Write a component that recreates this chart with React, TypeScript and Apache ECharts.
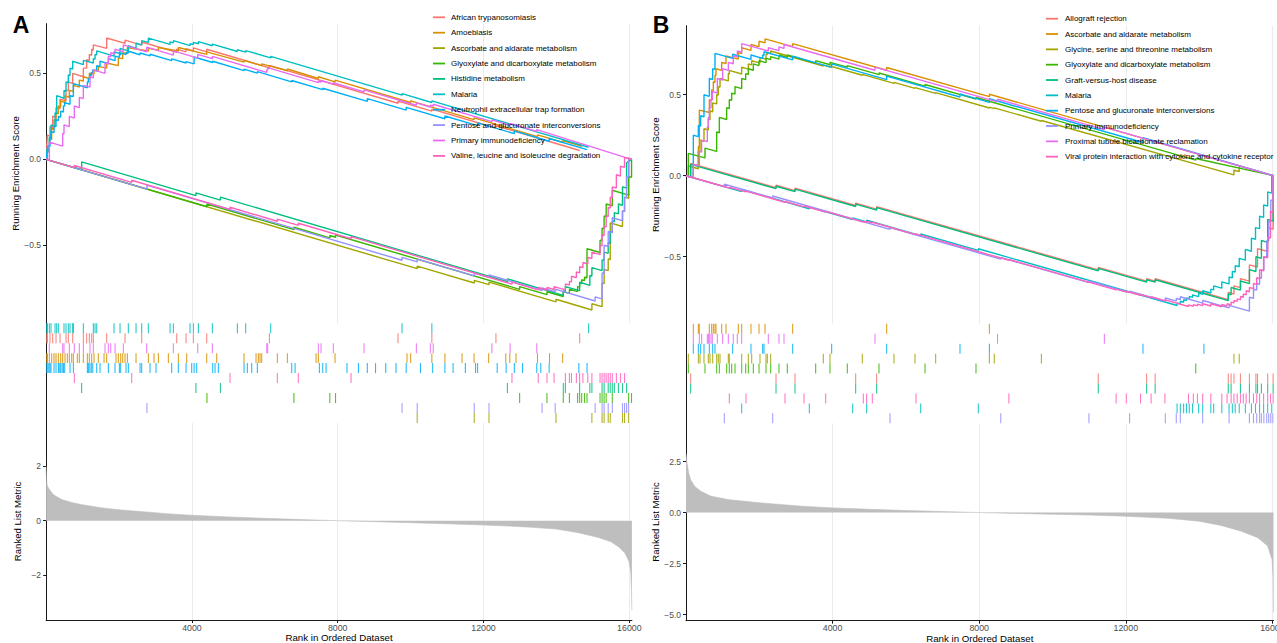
import React, { useEffect, useRef } from 'react';
import * as echarts from 'echarts';

const FONT = '"Liberation Sans", Arial, Helvetica, sans-serif';
const AXIS_COLOR = '#1a1a1a';
const LABEL_COLOR = '#4D4D4D';
const GRID_COLOR = '#EBEBEB';

const N_A = 16070;
const N_B = 16030;

const COLORS = ['#F8766D', '#D89000', '#A3A500', '#39B600', '#00BF7D', '#00BFC4', '#00B0F6', '#9590FF', '#E76BF3', '#FF62BC'];

const A_NAMES = [
  'African trypanosomiasis',
  'Amoebiasis',
  'Ascorbate and aldarate metabolism',
  'Glyoxylate and dicarboxylate metabolism',
  'Histidine metabolism',
  'Malaria',
  'Neutrophil extracellular trap formation',
  'Pentose and glucuronate interconversions',
  'Primary immunodeficiency',
  'Valine, leucine and isoleucine degradation',
];
const B_NAMES = [
  'Allograft rejection',
  'Ascorbate and aldarate metabolism',
  'Glycine, serine and threonine metabolism',
  'Glyoxylate and dicarboxylate metabolism',
  'Graft-versus-host disease',
  'Malaria',
  'Pentose and glucuronate interconversions',
  'Primary immunodeficiency',
  'Proximal tubule bicarbonate reclamation',
  'Viral protein interaction with cytokine and cytokine receptor',
];

// ---------- Panel A running enrichment scores ----------
const A_AFRICAN = [[0,0],[20,0],[20,0.08],[34,0.08],[34,0.14],[107,0.135],[107,0.19],[180,0.185],[180,0.25],[272,0.245],[272,0.3],[382,0.295],[382,0.35],[546,0.34],[546,0.4],[610,0.4],[610,0.45],[729,0.44],[729,0.5],[1022,0.48],[1022,0.53],[1113,0.53],[1113,0.58],[1186,0.575],[1186,0.61],[1250,0.605],[1250,0.64],[1296,0.635],[1296,0.665],[1662,0.645],[1662,0.705],[2165,0.674],[2165,0.693],[2622,0.664],[2622,0.682],[3583,0.622],[3583,0.641],[3839,0.625],[3839,0.643],[4040,0.63],[4040,0.648],[4406,0.625],[4406,0.64],[6126,0.532],[6126,0.546],[9654,0.326],[9654,0.338],[10582,0.28],[10582,0.292],[12340,0.182],[12340,0.195],[14637,0.051]];
const A_AMOEBIASIS = [[0,0],[20,0],[20,0.05],[89,0.045],[89,0.12],[153,0.115],[153,0.18],[217,0.175],[217,0.23],[272,0.225],[272,0.27],[336,0.265],[336,0.31],[400,0.305],[400,0.34],[519,0.33],[519,0.37],[638,0.36],[638,0.4],[748,0.395],[748,0.43],[912,0.42],[912,0.46],[1022,0.455],[1022,0.48],[1186,0.47],[1186,0.5],[1314,0.495],[1314,0.52],[1433,0.515],[1433,0.54],[1662,0.53],[1662,0.56],[1982,0.545],[1982,0.59],[2101,0.585],[2101,0.62],[2229,0.615],[2229,0.65],[2805,0.63],[2805,0.645],[3080,0.635],[3080,0.65],[3628,0.63],[3628,0.65],[4406,0.61],[4406,0.625],[5430,0.565],[5430,0.575],[5914,0.545],[5914,0.555],[6619,0.515],[6619,0.525],[7469,0.47],[7469,0.48],[7926,0.45],[7926,0.46],[10000,0.33],[10000,0.34],[11740,0.231],[11740,0.241],[13480,0.132],[13480,0.142],[14170,0.099],[14170,0.109],[14700,0.076]];
const A_ASCORBATE = [[0,0],[10180,-0.636],[10180,-0.621],[11745,-0.719],[11745,-0.704],[12150,-0.729],[12150,-0.714],[13987,-0.829],[13987,-0.814],[14972,-0.876],[14972,-0.84],[15252,-0.857],[15252,-0.72],[15308,-0.723],[15308,-0.64],[15420,-0.647],[15420,-0.58],[15476,-0.583],[15476,-0.37],[15812,-0.391],[15812,-0.3],[15868,-0.303],[15868,-0.22],[15980,-0.227],[15980,0.006],[16070,0]];
const A_GLYOXYLATE = [[0,0],[4412,-0.276],[4412,-0.26],[6798,-0.409],[6798,-0.395],[7783,-0.457],[7783,-0.443],[7940,-0.453],[7940,-0.44],[12990,-0.756],[12990,-0.74],[13740,-0.787],[13740,-0.77],[14188,-0.798],[14188,-0.77],[14356,-0.78],[14356,-0.755],[14580,-0.769],[14580,-0.74],[14636,-0.743],[14636,-0.72],[14692,-0.723],[14692,-0.7],[14770,-0.705],[14770,-0.685],[14838,-0.689],[14838,-0.52],[15196,-0.542],[15196,-0.47],[15252,-0.473],[15252,-0.4],[15308,-0.403],[15308,-0.33],[15364,-0.333],[15364,-0.26],[15532,-0.27],[15532,-0.18],[15980,-0.208],[15980,-0.1],[16060,-0.105],[16060,0]];
const A_HISTIDINE = [[0,0],[975,-0.061],[975,-0.015],[4110,-0.211],[4110,-0.195],[4782,-0.237],[4782,-0.22],[12655,-0.712],[12655,-0.695],[14188,-0.791],[14188,-0.765],[14245,-0.769],[14245,-0.74],[14636,-0.764],[14636,-0.715],[14916,-0.733],[14916,-0.675],[14972,-0.679],[14972,-0.63],[15252,-0.647],[15252,-0.585],[15308,-0.588],[15308,-0.54],[15420,-0.547],[15420,-0.485],[15476,-0.488],[15476,-0.42],[15532,-0.423],[15532,-0.36],[15588,-0.363],[15588,-0.31],[15700,-0.317],[15700,-0.26],[15812,-0.267],[15812,-0.16],[15924,-0.167],[15924,-0.02],[16070,0]];
const A_MALARIA = [[0,0],[20,0],[20,0.06],[89,0.055],[89,0.13],[135,0.125],[135,0.2],[245,0.19],[245,0.27],[290,0.265],[290,0.37],[491,0.355],[491,0.4],[546,0.395],[546,0.45],[610,0.445],[610,0.49],[656,0.487],[656,0.53],[729,0.525],[729,0.57],[1022,0.55],[1022,0.575],[1296,0.56],[1296,0.585],[1342,0.582],[1342,0.61],[1388,0.607],[1388,0.63],[1863,0.6],[1863,0.625],[2028,0.615],[2028,0.645],[2256,0.63],[2256,0.66],[2467,0.645],[2467,0.675],[2622,0.665],[2622,0.69],[2805,0.68],[2805,0.705],[3400,0.668],[3400,0.683],[3491,0.677],[3491,0.69],[3948,0.661],[3948,0.672],[4040,0.667],[4040,0.68],[4177,0.672],[4177,0.684],[4561,0.66],[4561,0.67],[5247,0.627],[5247,0.637],[5475,0.623],[5475,0.632],[6161,0.59],[6161,0.598],[9764,0.373],[9764,0.382],[10582,0.33],[10582,0.34],[14883,0.07]];
const A_NEUTROPHIL = [[0,0],[20,0],[20,0.04],[50,0.04],[50,0.08],[107,0.075],[107,0.12],[135,0.12],[135,0.16],[217,0.155],[217,0.19],[272,0.19],[272,0.23],[336,0.225],[336,0.25],[400,0.245],[400,0.28],[475,0.275],[475,0.31],[510,0.31],[510,0.33],[656,0.32],[656,0.37],[748,0.365],[748,0.44],[1132,0.416],[1132,0.45],[1160,0.448],[1160,0.47],[1200,0.467],[1200,0.49],[1240,0.487],[1240,0.505],[1280,0.502],[1280,0.52],[1388,0.513],[1388,0.545],[1479,0.539],[1479,0.57],[1708,0.556],[1708,0.585],[1891,0.574],[1891,0.6],[2010,0.593],[2010,0.61],[2046,0.608],[2046,0.618],[2192,0.609],[2192,0.622],[2256,0.618],[2256,0.628],[2577,0.608],[2577,0.618],[2851,0.601],[2851,0.611],[3445,0.574],[3445,0.584],[3839,0.56],[3839,0.568],[4060,0.555],[4060,0.595],[4570,0.563],[4570,0.57],[5430,0.516],[5430,0.524],[5795,0.501],[5795,0.51],[6737,0.45],[6737,0.458],[7588,0.405],[7588,0.413],[8812,0.337],[8812,0.353],[9878,0.286],[9878,0.302],[10940,0.236],[10940,0.252],[11837,0.196],[11837,0.212],[12845,0.149],[12845,0.165],[13800,0.105],[13800,0.121],[14840,0.056]];
const A_PENTOSE = [[0,0],[2766,-0.173],[2766,-0.15],[9765,-0.587],[9765,-0.57],[10180,-0.596],[10180,-0.58],[11745,-0.678],[11745,-0.662],[12150,-0.687],[12150,-0.672],[13606,-0.763],[13606,-0.748],[13965,-0.77],[13965,-0.755],[15061,-0.824],[15061,-0.8],[15252,-0.812],[15252,-0.66],[15308,-0.663],[15308,-0.5],[15420,-0.507],[15420,-0.42],[15532,-0.427],[15532,-0.34],[15812,-0.357],[15812,-0.3],[15868,-0.303],[15868,-0.22],[15924,-0.223],[15924,-0.1],[15980,-0.103],[15980,0.006],[16070,0]];
const A_PRIMARY = [[0,0],[89,-0.005],[89,0.1],[455,0.077],[455,0.15],[491,0.148],[491,0.2],[638,0.19],[638,0.25],[775,0.24],[775,0.31],[912,0.3],[912,0.36],[1022,0.353],[1022,0.43],[1205,0.42],[1205,0.48],[1296,0.474],[1296,0.52],[1616,0.5],[1616,0.56],[1708,0.554],[1708,0.6],[1772,0.596],[1772,0.62],[1891,0.613],[1891,0.64],[2119,0.626],[2119,0.665],[2759,0.625],[2759,0.652],[3491,0.606],[3491,0.63],[4159,0.588],[4159,0.61],[4561,0.585],[4561,0.598],[6052,0.505],[6052,0.52],[6079,0.518],[6079,0.533],[7469,0.446],[7469,0.454],[7542,0.449],[7542,0.458],[7880,0.437],[7880,0.445],[8722,0.392],[8722,0.404],[10157,0.314],[10157,0.328],[10540,0.304],[10540,0.314],[10620,0.309],[10620,0.32],[12230,0.219],[12230,0.229],[12730,0.198],[12730,0.208],[13460,0.162],[13460,0.173],[16060,0]];
const A_VALINE = [[0,0],[775,-0.048],[775,-0.036],[2348,-0.134],[2348,-0.122],[5045,-0.291],[5045,-0.279],[6343,-0.36],[6343,-0.348],[6919,-0.384],[6919,-0.372],[8365,-0.462],[8365,-0.45],[12780,-0.726],[12780,-0.714],[13500,-0.759],[13500,-0.745],[13740,-0.76],[13740,-0.745],[13935,-0.757],[13935,-0.74],[14245,-0.759],[14245,-0.725],[14356,-0.732],[14356,-0.71],[14412,-0.713],[14412,-0.68],[14547,-0.688],[14547,-0.655],[14636,-0.66],[14636,-0.625],[14726,-0.63],[14726,-0.6],[14860,-0.608],[14860,-0.57],[14972,-0.577],[14972,-0.54],[15196,-0.554],[15196,-0.5],[15252,-0.503],[15252,-0.44],[15308,-0.443],[15308,-0.39],[15364,-0.393],[15364,-0.33],[15420,-0.333],[15420,-0.28],[15476,-0.283],[15476,-0.22],[15532,-0.223],[15532,-0.16],[15644,-0.167],[15644,-0.09],[15756,-0.097],[15756,-0.04],[15868,-0.047],[15868,0.01],[16070,0]];

// ---------- Panel B running enrichment scores ----------
const B_ALLOGRAFT = [[0,0],[127,-0.008],[127,0.076],[2456,-0.074],[2456,-0.059],[2974,-0.092],[2974,-0.077],[4629,-0.184],[4629,-0.169],[5202,-0.206],[5202,-0.191],[11249,-0.581],[11249,-0.566],[12568,-0.651],[12568,-0.636],[12801,-0.651],[12801,-0.636],[14796,-0.765],[14796,-0.72],[14951,-0.73],[14951,-0.68],[15128,-0.691],[15128,-0.635],[15373,-0.651],[15373,-0.55],[15594,-0.564],[15594,-0.45],[15871,-0.468],[15871,-0.32],[16020,-0.33],[16020,0]];
const B_ASCORBATE = [[0,0],[200,-0.012],[200,0.07],[337,0.062],[337,0.18],[364,0.178],[364,0.405],[637,0.39],[637,0.47],[700,0.466],[700,0.53],[746,0.527],[746,0.58],[791,0.577],[791,0.62],[818,0.618],[818,0.66],[973,0.65],[973,0.7],[1091,0.693],[1091,0.74],[1428,0.72],[1428,0.76],[1519,0.754],[1519,0.79],[1773,0.774],[1773,0.81],[1992,0.797],[1992,0.83],[2156,0.82],[2156,0.845],[2910,0.797],[2910,0.815],[5475,0.651],[5475,0.668],[8278,0.488],[8278,0.503],[16030,0]];
const B_GLYCINE = [[0,0],[64,-0.004],[64,0.06],[337,0.043],[337,0.15],[382,0.147],[382,0.22],[491,0.213],[491,0.29],[609,0.282],[609,0.35],[655,0.347],[655,0.4],[728,0.395],[728,0.45],[837,0.443],[837,0.5],[882,0.497],[882,0.55],[928,0.547],[928,0.6],[1155,0.585],[1155,0.63],[1182,0.628],[1182,0.65],[1519,0.628],[1519,0.67],[1701,0.658],[1701,0.69],[1792,0.684],[1792,0.71],[2019,0.695],[2019,0.73],[2183,0.72],[2183,0.75],[2219,0.748],[2219,0.76],[2310,0.754],[2310,0.77],[3747,0.677],[3747,0.683],[3929,0.671],[3929,0.677],[4811,0.62],[4811,0.626],[5675,0.57],[5675,0.576],[6248,0.539],[6248,0.544],[6812,0.508],[6812,0.513],[8278,0.418],[8278,0.423],[8411,0.414],[8411,0.419],[9697,0.336],[9697,0.341],[14951,0.005],[14951,0.035],[15095,0.026],[15095,0.056],[15130,0.054]];
const B_GLYOXYLATE = [[0,0],[64,-0.004],[64,0.138],[518,0.11],[518,0.17],[837,0.15],[837,0.27],[910,0.265],[910,0.36],[1110,0.347],[1110,0.42],[1182,0.415],[1182,0.47],[1246,0.466],[1246,0.51],[1337,0.504],[1337,0.55],[1519,0.538],[1519,0.6],[1628,0.593],[1628,0.63],[1701,0.625],[1701,0.66],[1837,0.651],[1837,0.69],[1992,0.68],[1992,0.71],[2183,0.698],[2183,0.725],[2310,0.717],[2310,0.735],[2537,0.72],[2537,0.745],[2765,0.73],[2765,0.745],[3538,0.695],[3538,0.71],[3929,0.685],[3929,0.7],[4402,0.67],[4402,0.68],[5266,0.624],[5266,0.634],[6521,0.553],[6521,0.563],[7912,0.473],[7912,0.483],[13909,0.096],[13909,0.106],[16030,0]];
const B_GRAFT = [[0,0],[127,-0.008],[127,0.07],[2456,-0.08],[2456,-0.065],[2974,-0.098],[2974,-0.083],[4629,-0.19],[4629,-0.175],[5202,-0.212],[5202,-0.197],[11249,-0.587],[11249,-0.572],[12568,-0.657],[12568,-0.642],[12801,-0.657],[12801,-0.642],[14796,-0.771],[14796,-0.73],[14873,-0.735],[14873,-0.69],[15128,-0.706],[15128,-0.65],[15373,-0.666],[15373,-0.58],[15550,-0.591],[15550,-0.5],[15700,-0.51],[15700,-0.4],[15871,-0.411],[15871,-0.27],[16020,-0.28],[16020,0]];
const B_MALARIA = [[0,0],[1519,-0.098],[1519,-0.085],[3365,-0.204],[3365,-0.194],[4548,-0.27],[4548,-0.26],[4929,-0.285],[4929,-0.275],[6403,-0.37],[6403,-0.36],[7976,-0.461],[7976,-0.451],[13399,-0.801],[13399,-0.785],[13488,-0.791],[13488,-0.775],[13577,-0.781],[13577,-0.765],[13655,-0.77],[13655,-0.755],[13732,-0.76],[13732,-0.745],[13821,-0.751],[13821,-0.735],[13987,-0.746],[13987,-0.725],[14098,-0.732],[14098,-0.71],[14320,-0.724],[14320,-0.7],[14397,-0.705],[14397,-0.68],[14619,-0.694],[14619,-0.655],[14818,-0.668],[14818,-0.625],[14907,-0.631],[14907,-0.59],[14985,-0.595],[14985,-0.555],[15095,-0.562],[15095,-0.51],[15262,-0.521],[15262,-0.455],[15428,-0.466],[15428,-0.385],[15539,-0.392],[15539,-0.32],[15650,-0.327],[15650,-0.25],[15760,-0.257],[15760,-0.18],[15871,-0.187],[15871,-0.1],[15982,-0.107],[15982,0.003],[16030,0]];
const B_PENTOSE = [[0,0],[200,-0.012],[200,0.25],[337,0.241],[337,0.31],[400,0.306],[400,0.37],[491,0.364],[491,0.5],[637,0.49],[637,0.6],[728,0.594],[728,0.66],[791,0.656],[791,0.755],[1273,0.724],[1273,0.75],[1773,0.718],[1773,0.745],[2092,0.724],[2092,0.745],[2128,0.743],[2128,0.765],[2910,0.715],[2910,0.738],[3974,0.669],[3974,0.69],[5475,0.593],[5475,0.615],[7476,0.486],[7476,0.505],[8278,0.453],[8278,0.475],[12468,0.205],[12468,0.235],[16030,0]];
const B_PRIMARY = [[0,0],[1046,-0.067],[1046,-0.052],[2365,-0.137],[2365,-0.125],[5566,-0.331],[5566,-0.32],[8588,-0.515],[8588,-0.505],[10994,-0.66],[10994,-0.65],[12103,-0.722],[12103,-0.712],[13078,-0.775],[13078,-0.755],[13377,-0.774],[13377,-0.757],[13488,-0.764],[13488,-0.747],[14098,-0.786],[14098,-0.77],[14818,-0.816],[14818,-0.8],[15373,-0.836],[15373,-0.75],[15484,-0.757],[15484,-0.7],[15572,-0.706],[15572,-0.665],[15650,-0.67],[15650,-0.63],[15700,-0.633],[15700,-0.58],[15767,-0.584],[15767,-0.5],[15845,-0.505],[15845,-0.4],[15900,-0.404],[15900,-0.28],[15956,-0.284],[15956,-0.15],[16011,-0.154],[16011,0.001],[16030,0]];
const B_PROXIMAL = [[0,0],[200,-0.012],[200,0.07],[364,0.06],[364,0.15],[427,0.146],[427,0.22],[582,0.21],[582,0.3],[609,0.298],[609,0.36],[637,0.358],[637,0.42],[682,0.417],[682,0.47],[718,0.468],[718,0.52],[855,0.51],[855,0.6],[1000,0.59],[1000,0.66],[1155,0.65],[1155,0.7],[1291,0.691],[1291,0.74],[1400,0.733],[1400,0.77],[1519,0.762],[1519,0.815],[2246,0.77],[2246,0.79],[2537,0.772],[2537,0.795],[2674,0.786],[2674,0.81],[5157,0.651],[5157,0.67],[8500,0.456],[8500,0.472],[11415,0.285],[11415,0.3],[16030,0]];
const B_VIRAL = [[0,0],[1182,-0.076],[1182,-0.071],[1637,-0.1],[1637,-0.095],[2701,-0.164],[2701,-0.159],[3220,-0.192],[3220,-0.187],[3811,-0.225],[3811,-0.22],[4838,-0.286],[4838,-0.281],[4929,-0.287],[4929,-0.282],[5084,-0.292],[5084,-0.287],[6275,-0.364],[6275,-0.359],[8810,-0.522],[8810,-0.517],[11736,-0.705],[11736,-0.7],[12014,-0.718],[12014,-0.713],[12402,-0.738],[12402,-0.733],[12690,-0.752],[12690,-0.747],[13067,-0.771],[13067,-0.766],[13710,-0.807],[13710,-0.797],[13843,-0.806],[13843,-0.796],[13954,-0.803],[13954,-0.793],[14098,-0.802],[14098,-0.79],[14320,-0.804],[14320,-0.79],[14619,-0.809],[14619,-0.795],[14763,-0.804],[14763,-0.79],[14874,-0.797],[14874,-0.78],[14951,-0.785],[14951,-0.77],[15040,-0.776],[15040,-0.76],[15128,-0.766],[15128,-0.745],[15206,-0.75],[15206,-0.73],[15284,-0.735],[15284,-0.71],[15373,-0.716],[15373,-0.69],[15484,-0.697],[15484,-0.665],[15572,-0.671],[15572,-0.63],[15650,-0.635],[15650,-0.58],[15760,-0.587],[15760,-0.5],[15871,-0.507],[15871,-0.38],[15949,-0.385],[15949,-0.22],[16020,-0.225],[16020,0]];

// ---------- hit positions (rug panels) ----------
const A_TICKS_AFRICAN = [20,34,107,180,272,382,546,610,729,1022,1113,1186,1250,1296,1662,2165,2622,3583,3839,4040,4406,6126,9654,10582,12340,14637];
const A_TICKS_AMOEBIASIS = [20,34,89,153,217,272,336,400,455,519,583,638,702,748,857,912,1022,1132,1186,1250,1314,1433,1589,1662,1918,1982,2046,2101,2165,2229,2467,2805,2961,3080,3354,3628,3857,4406,4680,5430,5759,5823,5869,5914,6344,6619,7405,7469,7926,9900,10000,10582,10940,11410,11740,12140,12610,12720,12890,13480,13810,14170];
const A_TICKS_ASCORBATE = [10180,11745,12150,13987,14972,15252,15308,15420,15476,15812,15868,15980];
const A_TICKS_GLYOXYLATE = [4412,6798,7783,7940,12990,13740,14188,14356,14580,14636,14692,14770,14838,15196,15252,15308,15364,15532,15980,16060];
const A_TICKS_HISTIDINE = [975,4110,4782,12655,14188,14245,14636,14916,14972,15252,15308,15420,15476,15532,15588,15700,15812,15924];
const A_TICKS_MALARIA = [20,34,89,135,245,290,336,491,546,610,656,729,748,1022,1296,1342,1388,1863,2028,2256,2467,2622,2805,3400,3491,3948,4040,4177,4561,5247,5475,6161,9764,10582,14883];
const A_TICKS_NEUTROPHIL = [20,50,80,107,135,217,272,336,360,400,440,475,510,656,748,1132,1160,1200,1240,1280,1388,1479,1708,1891,2010,2046,2192,2256,2577,2622,2851,3016,3445,3628,3839,3994,4060,4131,4570,4634,4726,5430,5521,5640,5795,6737,6830,7497,7588,7680,8254,8568,8812,9037,9318,9598,9878,10270,10604,10940,11165,11501,11781,11837,12375,12620,12845,13070,13460,13570,13800,14615,14840];
const A_TICKS_PENTOSE = [2766,9765,10180,11745,12150,13606,13965,15061,15252,15308,15420,15532,15812,15868,15924,15980];
const A_TICKS_PRIMARY = [89,455,491,638,775,912,1022,1205,1296,1616,1708,1772,1891,2119,2759,3491,4159,4561,6052,6079,7469,7542,7880,8722,10157,10540,10620,12230,12730,13460];
const A_TICKS_VALINE = [775,2348,5045,6343,6919,8365,12780,13500,13740,13935,14245,14356,14412,14547,14636,14726,14860,14972,15196,15252,15308,15364,15420,15476,15532,15644,15756,15868];

const B_TICKS_ALLOGRAFT = [127,2456,2974,4629,5202,11249,12568,12801,14796,14873,14951,15128,15373,15550,15594,15871,16020];
const B_TICKS_ASCORBATE = [200,337,364,637,700,746,791,818,973,1091,1428,1519,1773,1992,2156,2910,5475,8278];
const B_TICKS_GLYCINE = [64,337,382,491,609,655,728,837,882,928,1155,1182,1519,1701,1792,2019,2183,2219,2310,3747,3929,4811,5675,6248,6812,8278,8411,9697,14951,15095];
const B_TICKS_GLYOXYLATE = [64,518,837,910,1110,1182,1246,1337,1519,1628,1701,1837,1992,2183,2310,2537,2765,3538,3929,4402,5266,6521,7912,13909];
const B_TICKS_GRAFT = [127,2456,2974,4629,5202,11249,12568,12801,14796,14873,15128,15373,15550,15594,15700,15871,16020];
const B_TICKS_MALARIA = [1519,3365,4548,4929,6403,7976,13399,13488,13577,13655,13732,13821,13987,14098,14320,14397,14619,14818,14907,14985,15095,15262,15428,15539,15650,15760,15871,15982];
const B_TICKS_PENTOSE = [200,337,400,491,637,728,791,1273,1773,2092,2128,2910,3974,5475,7476,8278,12468,14131];
const B_TICKS_PRIMARY = [1046,2365,5566,8588,10994,12103,13078,13377,13488,14098,14818,15373,15484,15572,15650,15700,15767,15845,15900,15956,16011];
const B_TICKS_PROXIMAL = [200,364,427,582,609,637,682,718,855,1000,1155,1291,1400,1519,2246,2537,2674,5157,8500,11415];
const B_TICKS_VIRAL = [1182,1637,2701,3220,3811,4838,4929,5084,6275,8810,11736,12014,12402,12690,13067,13710,13843,13954,14098,14320,14619,14763,14874,14951,15040,15128,15206,15284,15373,15484,15572,15650,15760,15871,15949,16020];

// order of gene sets in the rug panel, top to bottom (index into names)
const A_ROWS = [5, 0, 8, 1, 6, 9, 4, 3, 7, 2];
const B_ROWS = [1, 8, 6, 2, 3, 0, 4, 9, 5, 7];

// ---------- ranked list metric ----------
const A_METRIC = [[0,2.0],[10,1.6],[25,1.35],[45,1.25],[100,1.13],[210,0.95],[430,0.78],[700,0.67],[990,0.59],[1550,0.47],[2000,0.4],[2660,0.33],[3300,0.26],[4000,0.2],[5000,0.14],[6000,0.086],[7000,0.04],[8000,0.0],[9000,-0.035],[10000,-0.073],[11000,-0.115],[12000,-0.16],[12700,-0.2],[13300,-0.24],[14000,-0.31],[14600,-0.44],[15150,-0.62],[15500,-0.78],[15720,-0.98],[15880,-1.2],[15990,-1.5],[16040,-1.9],[16060,-2.6],[16070,-3.3]];
const B_METRIC = [[0,2.9],[30,2.4],[75,1.93],[130,1.6],[240,1.28],[410,1.04],[685,0.8],[1185,0.63],[2070,0.47],[3180,0.31],[4010,0.23],[5000,0.16],[6000,0.1],[7000,0.05],[8000,0.0],[9000,-0.04],[10000,-0.08],[11000,-0.12],[12000,-0.18],[13150,-0.28],[13990,-0.42],[14600,-0.63],[15150,-0.91],[15600,-1.23],[15870,-1.64],[15990,-2.3],[16020,-3.2],[16030,-4.9]];

// ---------- axes ----------
const X_LABELS = [4000, 8000, 12000, 16000];
const X_GRID_STEP = 2000;
const A_ES_TICKS = [-0.5, 0, 0.5];
const B_ES_TICKS = [-0.5, 0, 0.5];
const A_METRIC_TICKS = [-2, 0, 2];
const B_METRIC_TICKS = [-5, -2.5, 0, 2.5];
const A_ES_RANGE = [-0.953, 0.789];
const B_ES_RANGE = [-0.914, 0.926];
const A_METRIC_RANGE = [-3.66, 3.6];
const B_METRIC_RANGE = [-5.3, 4.376];

const A_CURVES = [A_AFRICAN, A_AMOEBIASIS, A_ASCORBATE, A_GLYOXYLATE, A_HISTIDINE, A_MALARIA, A_NEUTROPHIL, A_PENTOSE, A_PRIMARY, A_VALINE];
const B_CURVES = [B_ALLOGRAFT, B_ASCORBATE, B_GLYCINE, B_GLYOXYLATE, B_GRAFT, B_MALARIA, B_PENTOSE, B_PRIMARY, B_PROXIMAL, B_VIRAL];
const A_TICKS = [A_TICKS_AFRICAN, A_TICKS_AMOEBIASIS, A_TICKS_ASCORBATE, A_TICKS_GLYOXYLATE, A_TICKS_HISTIDINE, A_TICKS_MALARIA, A_TICKS_NEUTROPHIL, A_TICKS_PENTOSE, A_TICKS_PRIMARY, A_TICKS_VALINE];
const B_TICKS = [B_TICKS_ALLOGRAFT, B_TICKS_ASCORBATE, B_TICKS_GLYCINE, B_TICKS_GLYOXYLATE, B_TICKS_GRAFT, B_TICKS_MALARIA, B_TICKS_PENTOSE, B_TICKS_PRIMARY, B_TICKS_PROXIMAL, B_TICKS_VIRAL];

const minus = (s: string, v: number) => (v < 0 ? '\u2212' + s.replace('-', '') : s);
const fmt1 = (v: number) => minus(Math.abs(v) < 1e-9 ? '0.0' : v.toFixed(1), v);
const fmt0 = (v: number) => minus(Math.abs(v) < 1e-9 ? '0' : v.toFixed(0), v);

function xAxisDef(gridIndex: number, max: number, bottom: boolean) {
  return {
    type: 'value', gridIndex, min: 0, max, interval: X_GRID_STEP,
    show: true,
    axisLine: { show: bottom, onZero: false, lineStyle: { color: AXIS_COLOR, width: 1 } },
    axisTick: { show: bottom, length: 3, customValues: X_LABELS, lineStyle: { color: AXIS_COLOR } },
    axisLabel: { show: bottom, customValues: X_LABELS, color: LABEL_COLOR, fontSize: 8.8, fontFamily: FONT, margin: 3, formatter: (v: number) => String(v) },
    splitLine: { show: true, lineStyle: { color: GRID_COLOR, width: 1 } },
    name: bottom ? 'Rank in Ordered Dataset' : '',
    nameLocation: 'middle', nameGap: 11,
    nameTextStyle: { color: '#000', fontSize: 9.7, fontFamily: FONT, verticalAlign: 'top' },
  };
}
function tickXAxis(gridIndex: number, max: number) {
  return { type: 'value', gridIndex, min: 0, max, show: false, axisLine: { onZero: false } };
}
function yAxisDef(gridIndex: number, range: number[], ticks: number[], fmt: (v: number) => string, name: string, gap: number) {
  return {
    type: 'value', gridIndex, min: range[0], max: range[1],
    axisLine: { show: true, lineStyle: { color: AXIS_COLOR, width: 1 } },
    axisTick: { show: true, length: 3, customValues: ticks, lineStyle: { color: AXIS_COLOR } },
    axisLabel: { show: true, customValues: ticks, formatter: fmt, color: LABEL_COLOR, fontSize: 8.5, fontFamily: FONT, margin: 5 },
    splitLine: { show: false },
    name, nameLocation: 'middle', nameGap: gap,
    nameTextStyle: { color: '#000', fontSize: 9.6, fontFamily: FONT },
  };
}
function tickYAxis(gridIndex: number) {
  return {
    type: 'value', gridIndex, min: 0, max: 10, inverse: true,
    axisLine: { show: true, lineStyle: { color: AXIS_COLOR, width: 1 } },
    axisTick: { show: false }, axisLabel: { show: false }, splitLine: { show: false },
  };
}

function tickRenderer(color: string) {
  return (params: any, api: any) => {
    const x = api.value(0);
    const row = api.value(1);
    const p0 = api.coord([x, row]);
    const p1 = api.coord([x, row + 1]);
    return {
      type: 'line',
      shape: { x1: p0[0], y1: p0[1], x2: p1[0], y2: p1[1] },
      style: { stroke: color, lineWidth: 1.1, opacity: 0.85 },
    };
  };
}

function legendElements(names: string[], keyX: number, textX: number, y0: number, step: number) {
  const els: any[] = [];
  names.forEach((n, i) => {
    const y = y0 + step * i;
    els.push({ type: 'line', z: 100, shape: { x1: keyX, y1: y, x2: keyX + 12, y2: y }, style: { stroke: COLORS[i], lineWidth: 1.8 } });
    els.push({ type: 'text', z: 100, style: { text: n, x: textX, y, fill: '#000', fontSize: 8, fontFamily: FONT, verticalAlign: 'middle', align: 'left' } });
  });
  return els;
}

const gridBox = (left: number, top: number, width: number, height: number) => ({ left, top, width, height, containLabel: false, outerBoundsMode: 'none' });

export default function App() {
  const ref = useRef<HTMLDivElement>(null);
  useEffect(() => {
    if (!ref.current) return;
    const chart = echarts.init(ref.current, undefined, { renderer: 'svg' });
    const series: any[] = [];
    A_CURVES.forEach((d, i) => series.push({ type: 'line', name: 'A ' + A_NAMES[i], xAxisIndex: 0, yAxisIndex: 0, data: d, symbol: 'none', color: COLORS[i], lineStyle: { width: 1.4, color: COLORS[i] }, silent: true }));
    B_CURVES.forEach((d, i) => series.push({ type: 'line', name: 'B ' + B_NAMES[i], xAxisIndex: 3, yAxisIndex: 3, data: d, symbol: 'none', color: COLORS[i], lineStyle: { width: 1.4, color: COLORS[i] }, silent: true }));
    A_ROWS.forEach((setIdx, r) => series.push({ type: 'custom', name: 'A hits ' + A_NAMES[setIdx], xAxisIndex: 1, yAxisIndex: 1, data: A_TICKS[setIdx].map((t) => [t, r]), encode: { x: 0, y: 1 }, renderItem: tickRenderer(COLORS[setIdx]), silent: true }));
    B_ROWS.forEach((setIdx, r) => series.push({ type: 'custom', name: 'B hits ' + B_NAMES[setIdx], xAxisIndex: 4, yAxisIndex: 4, data: B_TICKS[setIdx].map((t) => [t, r]), encode: { x: 0, y: 1 }, renderItem: tickRenderer(COLORS[setIdx]), silent: true }));
    series.push({ type: 'line', name: 'A metric', xAxisIndex: 2, yAxisIndex: 2, data: A_METRIC, symbol: 'none', lineStyle: { width: 0.6, color: '#BEBEBE' }, areaStyle: { color: '#BEBEBE', opacity: 1 }, silent: true });
    series.push({ type: 'line', name: 'B metric', xAxisIndex: 5, yAxisIndex: 5, data: B_METRIC, symbol: 'none', lineStyle: { width: 0.6, color: '#BEBEBE' }, areaStyle: { color: '#BEBEBE', opacity: 1 }, silent: true });

    const option: any = {
      animation: false,
      backgroundColor: '#fff',
      textStyle: { fontFamily: FONT },
      grid: [
        gridBox(46.1, 23.6, 585.8, 299.6),
        gridBox(46.1, 323.2, 585.8, 99.8),
        gridBox(46.1, 423, 585.8, 197),
        gridBox(686, 25.7, 587.5, 298.1),
        gridBox(686, 323.8, 587.5, 99.5),
        gridBox(686, 423.3, 587.5, 197.4),
      ],
      xAxis: [
        xAxisDef(0, N_A, false),
        tickXAxis(1, N_A),
        xAxisDef(2, N_A, true),
        xAxisDef(3, N_B, false),
        tickXAxis(4, N_B),
        xAxisDef(5, N_B, true),
      ],
      yAxis: [
        yAxisDef(0, A_ES_RANGE, A_ES_TICKS, fmt1, 'Running Enrichment Score', 23),
        tickYAxis(1),
        yAxisDef(2, A_METRIC_RANGE, A_METRIC_TICKS, fmt0, 'Ranked List Metric', 24),
        yAxisDef(3, B_ES_RANGE, B_ES_TICKS, fmt1, 'Running Enrichment Score', 22),
        tickYAxis(4),
        yAxisDef(5, B_METRIC_RANGE, B_METRIC_TICKS, fmt1, 'Ranked List Metric', 22),
      ],
      graphic: {
        elements: [
          ...legendElements(A_NAMES, 433, 451, 17.3, 15.4),
          ...legendElements(B_NAMES, 1046, 1065, 18.7, 15.33),
          { type: 'text', z: 100, style: { text: 'A', x: 21, y: 25, fill: '#000', fontSize: 23, fontWeight: 'bold', fontFamily: FONT, align: 'center', verticalAlign: 'middle' } },
          { type: 'text', z: 100, style: { text: 'B', x: 661, y: 25, fill: '#000', fontSize: 23, fontWeight: 'bold', fontFamily: FONT, align: 'center', verticalAlign: 'middle' } },
        ],
      },
      series,
    };
    chart.setOption(option);
    return () => chart.dispose();
  }, []);
  return <div ref={ref} style={{ position: 'absolute', left: 0, top: 0, width: 1277, height: 643, background: '#fff' }} />;
}
